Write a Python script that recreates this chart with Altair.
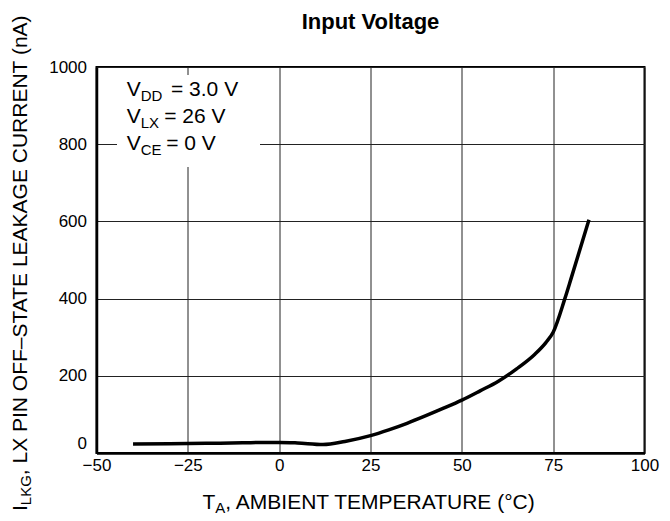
import altair as alt
import pandas as pd

# ---- data ----
temp = [-40, -30, -20, -10, 0, 5, 12, 18, 25, 30, 35, 40, 45, 50, 55, 60, 65, 70, 73, 75, 78.2, 80, 84.8]
leak = [23.5, 24, 25, 26.5, 27.5, 26, 22, 30, 45, 60, 77, 96, 116, 137, 161, 186, 218, 256, 286, 313, 400, 455, 604]

x_ticks = [-50, -25, 0, 25, 50, 75, 100]
y_ticks = [0, 200, 400, 600, 800, 1000]

title_text = "Input Voltage"
cond_main = ["V", "V", "V"]
cond_sub = ["DD", "LX", "CE"]
cond_rest = ["= 3.0 V", "= 26 V", "= 0 V"]
x_title = ["T", "A", ", AMBIENT TEMPERATURE (°C)"]
y_title = ["I", "LKG", ", LX PIN OFF\u2013STATE LEAKAGE CURRENT (nA)"]

FONT = "Liberation Sans"
W, H = 548, 386

curve = pd.DataFrame({"temp": temp, "leak": leak})

xaxis = alt.Axis(values=x_ticks, grid=True, gridColor="#222", gridWidth=1, ticks=False,
                 domainColor="black", domainWidth=2.5, labelFont=FONT, labelFontSize=17,
                 labelColor="black", labelPadding=4, title=None, labelFlush=False, format="d")
yaxis = alt.Axis(values=y_ticks, grid=True, gridColor="#222", gridWidth=1, ticks=False,
                 domainColor="black", domainWidth=2.5, labelFont=FONT, labelFontSize=17,
                 labelColor="black", labelPadding=10, title=None, labelFlush=False, format="d",
                 labelOffset={"condition": {"test": "datum.value === 0", "value": -10}, "value": 0})

line = alt.Chart(curve).mark_line(color="black", strokeWidth=3.5, interpolate="monotone").encode(
    x=alt.X("temp:Q", scale=alt.Scale(domain=[-50, 100], nice=False), axis=xaxis),
    y=alt.Y("leak:Q", scale=alt.Scale(domain=[0, 1000], nice=False), axis=yaxis),
)

box = alt.Chart(pd.DataFrame({"k": [0]})).mark_rect(fill="white").encode(
    x=alt.value(20.5), x2=alt.value(163.5), y=alt.value(8), y2=alt.value(100)
)


def seg_layer(rows, angle=0, align="left", weight="normal"):
    df = pd.DataFrame(rows, columns=["label", "px", "py", "fs"])
    return alt.Chart(df).mark_text(font=FONT, align=align, baseline="alphabetic", angle=angle,
                                   fontWeight=weight, color="black").encode(
        x=alt.X("px:Q", scale=None),
        y=alt.Y("py:Q", scale=None),
        text=alt.Text("label:N"),
        size=alt.Size("fs:Q", scale=None, legend=None),
    )


# condition box text (main + subscript + rest)
box_rows = []
base_y = [29, 56.3, 83]
rest_x = [74.5, 67.7, 69.7]
for i in range(3):
    box_rows.append([cond_main[i], 30.2, base_y[i], 21])
    box_rows.append([cond_sub[i], 44.2, base_y[i] + 4.7, 15])
    box_rows.append([cond_rest[i], rest_x[i], base_y[i], 21])
box_text = seg_layer(box_rows)

# x axis title
xt_rows = [
    [x_title[0], 106, 442, 21],
    [x_title[1], 118.8, 446, 15],
    [x_title[2], 128.8, 442, 21],
]
xt = seg_layer(xt_rows)

# y axis title (rotated)
yt_rows = [
    [y_title[0], -69.8, 444, 21],
    [y_title[1], -65.6, 438.2, 15],
    [y_title[2], -69.8, 408.2, 21],
]
yt = seg_layer(yt_rows, angle=270)

title = seg_layer([[title_text, W / 2, -38.5, 22]], align="center", weight="bold")

chart = alt.layer(box, line, box_text, xt, yt, title).properties(
    width=W, height=H,
    autosize=alt.AutoSizeParams(type="none"),
    padding={"left": 88.5, "top": 59, "right": 17.5, "bottom": 63},
).configure_view(stroke="black", strokeWidth=2)

chart.save("out.html", embed_options={"renderer": "svg", "actions": False})
